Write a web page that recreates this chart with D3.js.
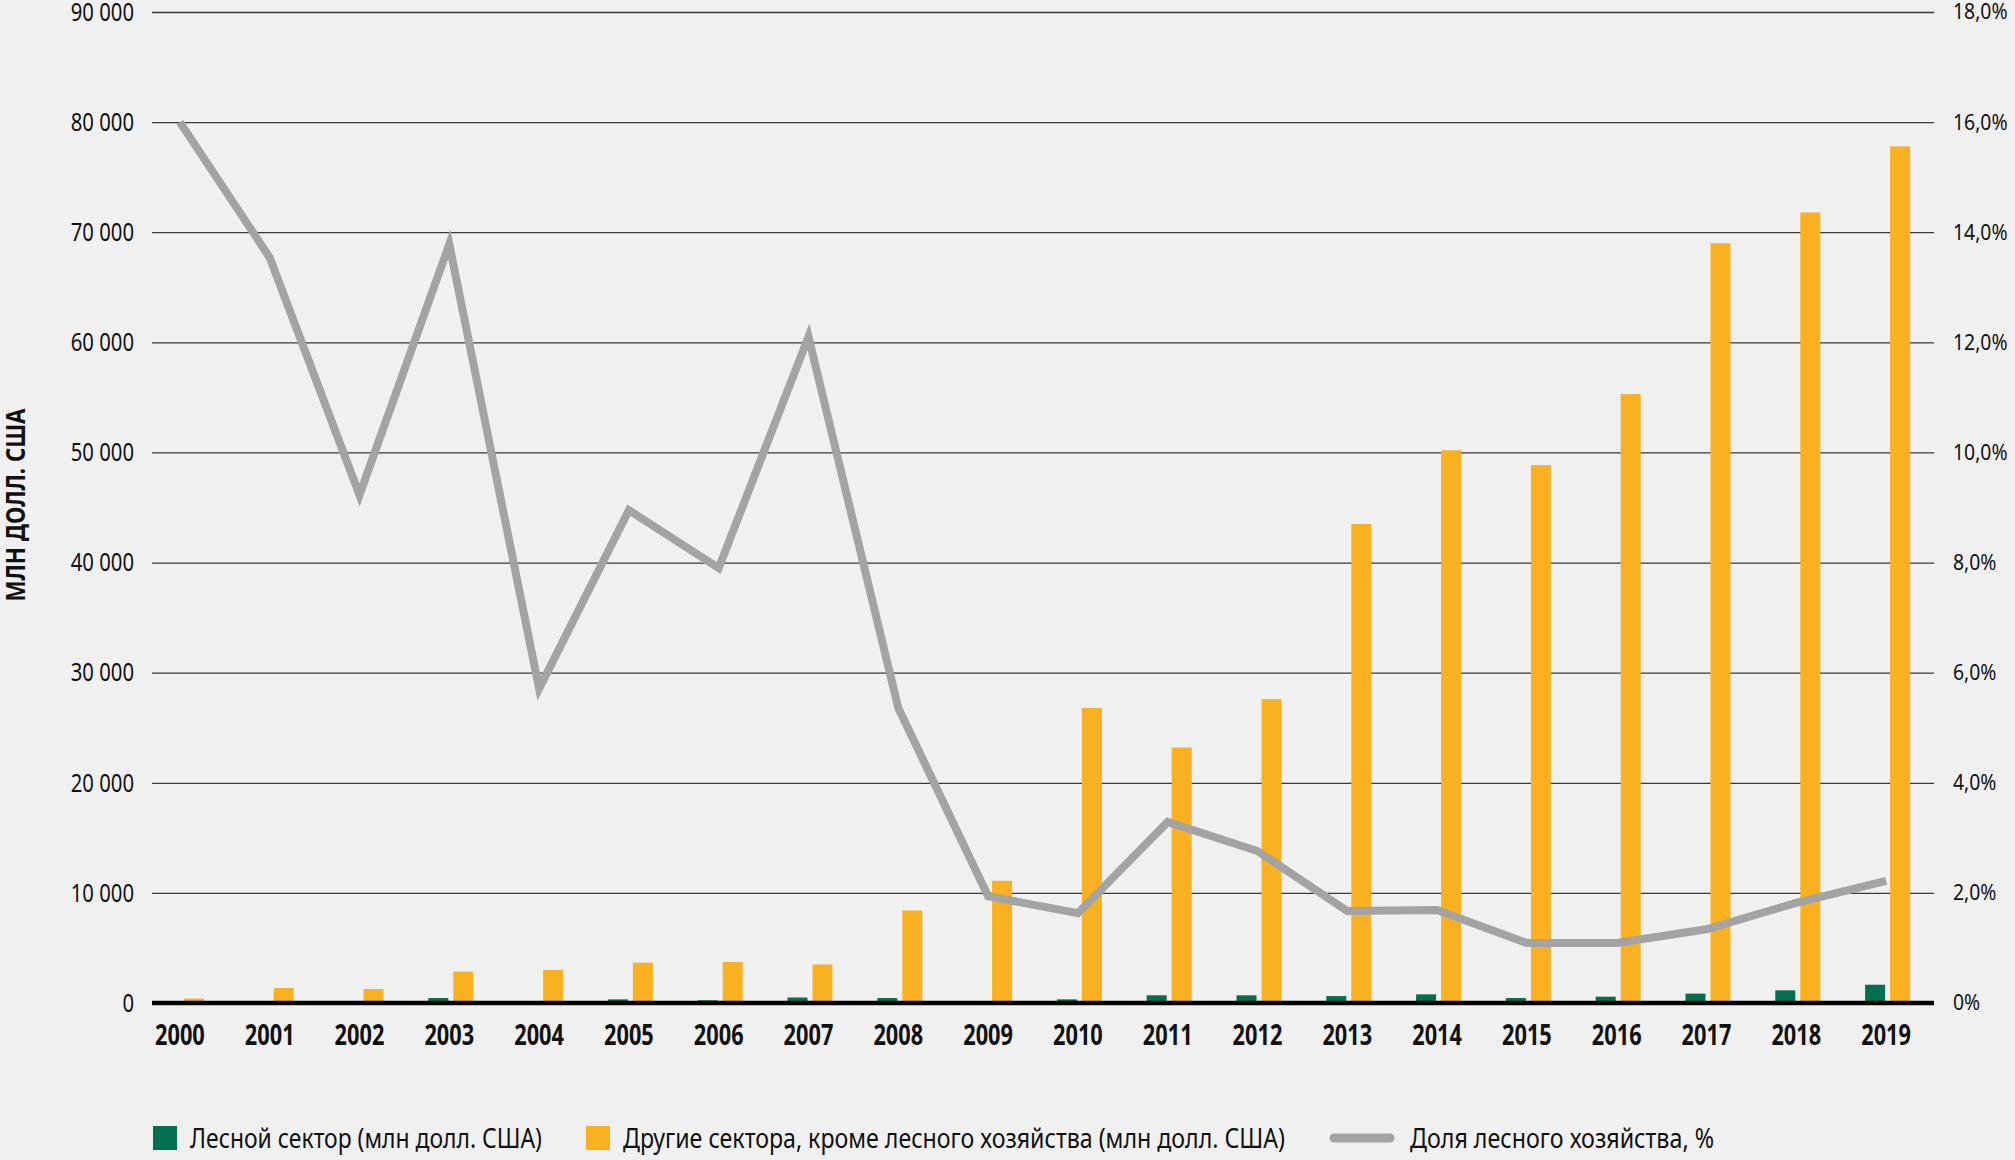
<!DOCTYPE html>
<html><head><meta charset="utf-8">
<script src="https://cdn.jsdelivr.net/npm/d3@7"></script>
<style>
html,body{margin:0;padding:0;background:#f0f0f0;}
text{font-family:"Noto Sans","Open Sans",sans-serif;fill:#111;}
</style></head><body>
<svg id="c" width="2015" height="1160"></svg>
<script>
const years = ["2000","2001","2002","2003","2004","2005","2006","2007","2008","2009","2010","2011","2012","2013","2014","2015","2016","2017","2018","2019"];
const forestSector = [50,100,50,450,100,330,250,500,450,100,330,700,700,630,785,450,575,850,1150,1660];
const otherSectors = [400,1360,1270,2850,3000,3670,3730,3500,8400,11100,26800,23200,27600,43500,50200,48850,55300,69000,71800,77800];
const forestShare = [16.0,13.54,9.23,13.78,5.71,8.95,7.9,12.1,5.36,1.94,1.63,3.29,2.76,1.67,1.69,1.09,1.09,1.34,1.82,2.22];
const leftTicks = [0,10000,20000,30000,40000,50000,60000,70000,80000,90000];
const rightTicks = [0,2,4,6,8,10,12,14,16,18];
const seriesNames = ["Лесной сектор (млн долл. США)","Другие сектора, кроме лесного хозяйства (млн долл. США)","Доля лесного хозяйства, %"];
const yTitle = "МЛН ДОЛЛ. США";

const FONT = '"Noto Sans","Open Sans",sans-serif';
const colGreen = "#04704f", colOrange = "#f9b122", colLine = "#a3a3a3";
const svg = d3.select("#c");
svg.append("rect").attr("width",2015).attr("height",1160).attr("fill","#f0f0f0");

function condense(sel, factor){
  sel.each(function(){
    const w = this.getComputedTextLength();
    d3.select(this).attr("textLength", w*factor).attr("lengthAdjust","spacingAndGlyphs");
  });
}
function fitTo(sel, width){
  sel.attr("textLength", width).attr("lengthAdjust","spacingAndGlyphs");
}

const gx0 = 152, gx1 = 1934;
const x = d3.scaleBand().domain(years).range([135,1931]).padding(0);
const xs = d3.scaleBand().domain(["f","o"]).range([-21,24]).paddingInner(0.2).paddingOuter(0);
const y = d3.scaleLinear().domain([0,90000]).range([1003,12]);
const y2 = d3.scaleLinear().domain([0,18]).range([1003,12]);
const cx = d => x(d) + x.bandwidth()/2;

const fmtL = d => d===0 ? "0" : d3.format(",")(d).replace(/,/g," ");
const fmtR = d => d===0 ? "0%" : d.toFixed(1).replace(".",",")+"%";

// grid lines via axis
const gAxis = d3.axisLeft(y).tickValues(leftTicks).tickSize(-(gx1-gx0)).tickFormat("");
const gg = svg.append("g").attr("transform",`translate(${gx0},0)`).call(gAxis);
gg.select(".domain").remove();
gg.selectAll(".tick line").attr("stroke","#3a3a3a").attr("stroke-width",1.3);

// left labels
const la = svg.append("g").attr("transform",`translate(${gx0},0)`).call(d3.axisLeft(y).tickValues(leftTicks).tickSize(0).tickPadding(18).tickFormat(fmtL));
la.select(".domain").remove();
la.selectAll("text").attr("font-size",26).attr("font-family",FONT).attr("fill","#111");
condense(la.selectAll("text"), 0.78);

// right labels (left-aligned)
const ra = svg.append("g").attr("transform",`translate(${gx1},0)`).call(d3.axisRight(y2).tickValues(rightTicks).tickSize(0).tickPadding(19).tickFormat(fmtR));
ra.select(".domain").remove();
ra.selectAll("text").attr("font-size",21.5).attr("font-family",FONT).attr("fill","#111");
condense(ra.selectAll("text"), 0.9);

// bars
svg.append("g").selectAll("rect").data(years).join("rect")
  .attr("x",d=>cx(d)+xs("f")).attr("width",xs.bandwidth())
  .attr("y",(d,i)=>y(forestSector[i])).attr("height",(d,i)=>y(0)-y(forestSector[i]))
  .attr("fill",colGreen);
svg.append("g").selectAll("rect").data(years).join("rect")
  .attr("x",d=>cx(d)+xs("o")).attr("width",xs.bandwidth())
  .attr("y",(d,i)=>y(otherSectors[i])).attr("height",(d,i)=>y(0)-y(otherSectors[i]))
  .attr("fill",colOrange);

// baseline
svg.append("line").attr("x1",gx0).attr("x2",gx1).attr("y1",y(0)).attr("y2",y(0))
  .attr("stroke","#000").attr("stroke-width",4.5);

// line
const line = d3.line().x((d,i)=>cx(years[i])).y(d=>y2(d));
svg.append("path").datum(forestShare).attr("d",line).attr("fill","none")
  .attr("stroke",colLine).attr("stroke-width",8).attr("stroke-linejoin","miter");

// x labels
const xa = svg.append("g").attr("transform",`translate(0,${y(0)})`).call(d3.axisBottom(x).tickSize(0).tickPadding(21));
xa.select(".domain").remove();
xa.selectAll("text").attr("font-size",29).attr("font-weight","bold").attr("font-family",FONT).attr("fill","#111");
condense(xa.selectAll("text"), 0.75);

// y title
const yt = svg.append("text").attr("transform","translate(25,505) rotate(-90)").attr("text-anchor","middle")
  .attr("font-family",'"Liberation Sans",Arial,sans-serif')
  .attr("font-size",26).attr("font-weight","bold").text(yTitle);
fitTo(yt, 193);

// legend
const lg = svg.append("g");
const ly = 1138;
lg.append("rect").attr("x",153).attr("y",ly-12).attr("width",24).attr("height",24).attr("fill",colGreen);
fitTo(lg.append("text").attr("x",190).attr("y",ly+10).attr("font-size",27).text(seriesNames[0]), 352);
lg.append("rect").attr("x",586).attr("y",ly-12).attr("width",24).attr("height",24).attr("fill",colOrange);
fitTo(lg.append("text").attr("x",623).attr("y",ly+10).attr("font-size",27).text(seriesNames[1]), 662);
lg.append("line").attr("x1",1334).attr("x2",1390).attr("y1",ly).attr("y2",ly).attr("stroke",colLine).attr("stroke-width",9).attr("stroke-linecap","round");
fitTo(lg.append("text").attr("x",1410).attr("y",ly+10).attr("font-size",27).text(seriesNames[2]), 304);
</script></body></html>
